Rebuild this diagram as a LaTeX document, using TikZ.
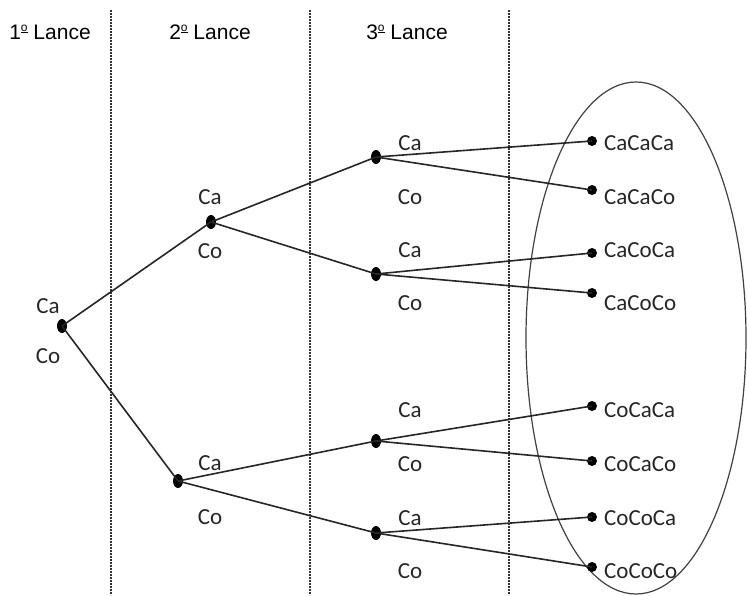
\documentclass[tikz,border=0pt]{standalone}
\usepackage{fontspec}
\usetikzlibrary{shapes.geometric}
\newfontfamily\labfont{Carlito}
\newfontfamily\headfont{Liberation Sans}
\newcommand{\myordm}{\raisebox{0.62ex}{\fontsize{12}{12}\selectfont\setbox0\hbox{o}\vbox{\hbox to\wd0{o}\kern0.6pt\hrule height0.6pt}}}
\begin{document}
\begin{tikzpicture}[x=1pt,y=-1pt,
  sep/.style={densely dotted, line width=2pt, black!80},
  branch/.style={line width=1.6pt, black!85},
  idot/.style={ellipse, fill=black, inner sep=0pt, minimum width=10pt, minimum height=14pt},
  leaf/.style={circle, fill=black, inner sep=0pt, minimum size=10pt},
  lab/.style={font=\labfont\fontsize{23}{23}\selectfont, text=black!85, inner sep=0pt},
  leaflab/.style={lab, anchor=west},
  head/.style={font=\headfont\fontsize{21}{21}\selectfont, inner sep=0pt},
  setshape/.style={draw=black!75, ellipse, line width=1.2pt, inner sep=0pt, minimum width=220pt, minimum height=512pt}]
\useasboundingbox (0,0) rectangle (747,595);

% headers
\node[head] (h1) at (50,32) {1\myordm\ Lance};
\node[head] (h2) at (210,32) {2\myordm\ Lance};
\node[head] (h3) at (407,32) {3\myordm\ Lance};

% separators
\coordinate (s1t) at (111,10); \coordinate (s1b) at (111,595);
\coordinate (s2t) at (310,10); \coordinate (s2b) at (310,595);
\coordinate (s3t) at (509,10); \coordinate (s3b) at (509,595);
\draw[sep] (s1t) -- (s1b);
\draw[sep] (s2t) -- (s2b);
\draw[sep] (s3t) -- (s3b);

% outcome set
\node[setshape] (set) at (636,338) {};

% tree nodes
\node[idot] (r)  at (62,326) {};
\node[idot] (a)  at (211,222) {};
\node[idot] (b)  at (178,481) {};
\node[idot] (aa) at (376,157) {};
\node[idot] (ab) at (376,274) {};
\node[idot] (ba) at (376,441) {};
\node[idot] (bb) at (376,533) {};

\node[leaf] (l1) at (592,141) {};
\node[leaf] (l2) at (592,190) {};
\node[leaf] (l3) at (592,253) {};
\node[leaf] (l4) at (592,293) {};
\node[leaf] (l5) at (592,406) {};
\node[leaf] (l6) at (592,461) {};
\node[leaf] (l7) at (592,517) {};
\node[leaf] (l8) at (592,567) {};

% branches
\draw[branch] (r.center) -- (a.center);
\draw[branch] (r.center) -- (b.center);
\draw[branch] (a.center) -- (aa.center);
\draw[branch] (a.center) -- (ab.center);
\draw[branch] (b.center) -- (ba.center);
\draw[branch] (b.center) -- (bb.center);
\draw[branch] (aa.center) -- (l1.center);
\draw[branch] (aa.center) -- (l2.center);
\draw[branch] (ab.center) -- (l3.center);
\draw[branch] (ab.center) -- (l4.center);
\draw[branch] (ba.center) -- (l5.center);
\draw[branch] (ba.center) -- (l6.center);
\draw[branch] (bb.center) -- (l7.center);
\draw[branch] (bb.center) -- (l8.center);

% branch labels
\node[lab] (rca) at (48,306) {Ca};
\node[lab] (rco) at (48,356) {Co};
\node[lab] (aca) at (210,197) {Ca};
\node[lab] (aco) at (210,251) {Co};
\node[lab] (bca) at (210,463) {Ca};
\node[lab] (bco) at (210,517) {Co};
\node[lab] (aaca) at (410,143) {Ca};
\node[lab] (aaco) at (410,197) {Co};
\node[lab] (abca) at (410,250) {Ca};
\node[lab] (abco) at (410,303) {Co};
\node[lab] (baca) at (410,410) {Ca};
\node[lab] (baco) at (410,464) {Co};
\node[lab] (bbca) at (410,518) {Ca};
\node[lab] (bbco) at (410,571) {Co};

% outcomes
\node[leaflab] (o1) at (604,143) {CaCaCa};
\node[leaflab] (o2) at (604,197) {CaCaCo};
\node[leaflab] (o3) at (604,250) {CaCoCa};
\node[leaflab] (o4) at (604,303) {CaCoCo};
\node[leaflab] (o5) at (604,410) {CoCaCa};
\node[leaflab] (o6) at (604,464) {CoCaCo};
\node[leaflab] (o7) at (604,518) {CoCoCa};
\node[leaflab] (o8) at (604,571) {CoCoCo};
\end{tikzpicture}
\end{document}
